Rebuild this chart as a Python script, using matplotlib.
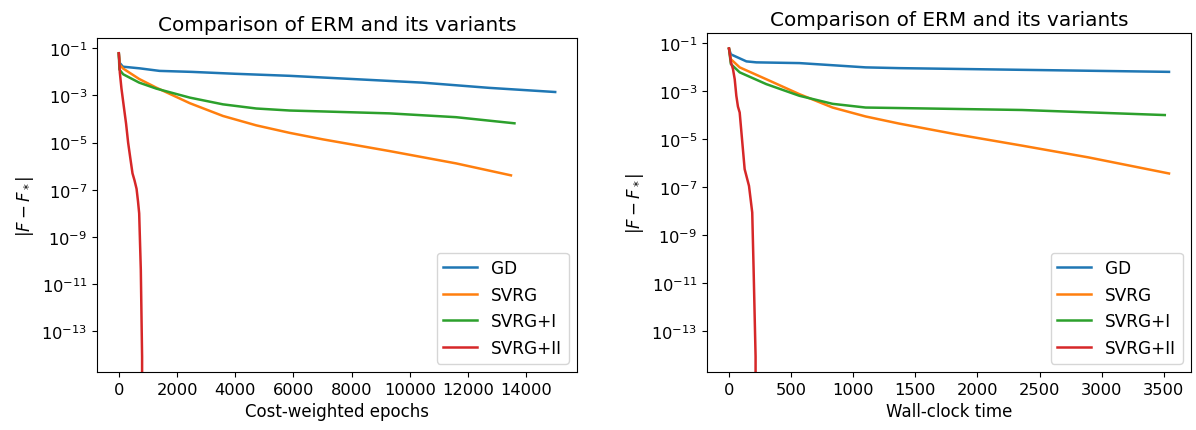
import matplotlib.pyplot as plt
import numpy as np

# ---- left panel: cost-weighted epochs ----
ep_gd_x = [0, 20, 140, 720, 1400, 2500, 4000, 5870, 8000, 10430, 12730, 15000]
ep_gd_y = [6.0e-2, 2.5e-2, 1.66e-2, 1.41e-2, 1.10e-2, 1.0e-2, 8.3e-3, 6.8e-3, 5.0e-3, 3.5e-3, 2.1e-3, 1.4e-3]

ep_svrg_x = [0, 30, 150, 700, 1290, 2440, 3580, 4725, 5870, 7010, 9300, 11590, 13480]
ep_svrg_y = [6.0e-2, 2.0e-2, 1.38e-2, 5.0e-3, 2.14e-3, 4.7e-4, 1.35e-4, 5.4e-5, 2.6e-5, 1.38e-5, 4.4e-6, 1.32e-6, 4.1e-7]

ep_svrg1_x = [0, 20, 150, 700, 1290, 2440, 3580, 4725, 5870, 7010, 9300, 11590, 13600]
ep_svrg1_y = [6.0e-2, 1.26e-2, 7.9e-3, 3.5e-3, 1.95e-3, 8.1e-4, 4.2e-4, 2.8e-4, 2.3e-4, 2.1e-4, 1.74e-4, 1.2e-4, 6.6e-5]

ep_svrg2_x = [0, 15, 35, 90, 170, 250, 320, 400, 470, 540, 610, 660, 700, 756, 800, 805]
ep_svrg2_y = [6.2e-2, 3.2e-2, 9.3e-3, 2.0e-3, 3.5e-4, 6.3e-5, 1.0e-5, 2.0e-6, 5.0e-7, 2.5e-7,
              1.1e-7, 3.2e-8, 1.0e-8, 4.0e-11, 8.3e-15, 0.0]

# ---- right panel: wall-clock time ----
wc_gd_x = [0, 15, 140, 220, 567, 834, 1100, 1369, 2358, 3542]
wc_gd_y = [6.0e-2, 3.5e-2, 1.78e-2, 1.62e-2, 1.51e-2, 1.23e-2, 1.0e-2, 9.3e-3, 7.9e-3, 6.5e-3]

wc_svrg_x = [0, 15, 86, 300, 567, 834, 1100, 1369, 1823, 2358, 2893, 3542]
wc_svrg_y = [6.0e-2, 2.2e-2, 1.0e-2, 3.2e-3, 7.6e-4, 2.1e-4, 8.9e-5, 4.5e-5, 1.62e-5, 5.4e-6, 1.74e-6, 3.7e-7]

wc_svrg1_x = [0, 15, 86, 300, 567, 834, 1100, 1369, 2358, 3508]
wc_svrg1_y = [6.0e-2, 1.38e-2, 6.2e-3, 2.0e-3, 6.5e-4, 3.0e-4, 2.1e-4, 2.0e-4, 1.66e-4, 1.02e-4]

wc_svrg2_x = [0, 16, 32, 46, 59, 72, 86, 126, 161, 187, 198, 214, 216]
wc_svrg2_y = [6.2e-2, 1.62e-2, 8.5e-3, 3.2e-3, 6.5e-4, 2.3e-4, 1.3e-4, 5.6e-7, 1.12e-7, 8.7e-9,
              3.8e-11, 8.3e-15, 0.0]

labels = ['GD', 'SVRG', 'SVRG+I', 'SVRG+II']

fig = plt.figure(figsize=(11.96, 4.31), dpi=100)
ax1 = fig.add_axes([97 / 1196, 58 / 431, 480 / 1196, 334 / 431])
ax2 = fig.add_axes([707 / 1196, 58 / 431, 484 / 1196, 339 / 431])

panels = [
    (ax1, [(ep_gd_x, ep_gd_y), (ep_svrg_x, ep_svrg_y), (ep_svrg1_x, ep_svrg1_y), (ep_svrg2_x, ep_svrg2_y)],
     'Cost-weighted epochs'),
    (ax2, [(wc_gd_x, wc_gd_y), (wc_svrg_x, wc_svrg_y), (wc_svrg1_x, wc_svrg1_y), (wc_svrg2_x, wc_svrg2_y)],
     'Wall-clock time'),
]

for ax, series, xlabel in panels:
    for (x, y), lab in zip(series, labels):
        ax.plot(x, y, label=lab, lw=1.8)
    ax.set_yscale('log')
    ax.set_title('Comparison of ERM and its variants', fontsize=14.4)
    ax.set_xlabel(xlabel, fontsize=12)
    ax.set_ylabel(r'$|F - F_*|$', fontsize=12)
    ax.tick_params(labelsize=11.7)
    ax.legend(loc='lower right', fontsize=12.2)

plt.savefig('out.png', dpi=100)
